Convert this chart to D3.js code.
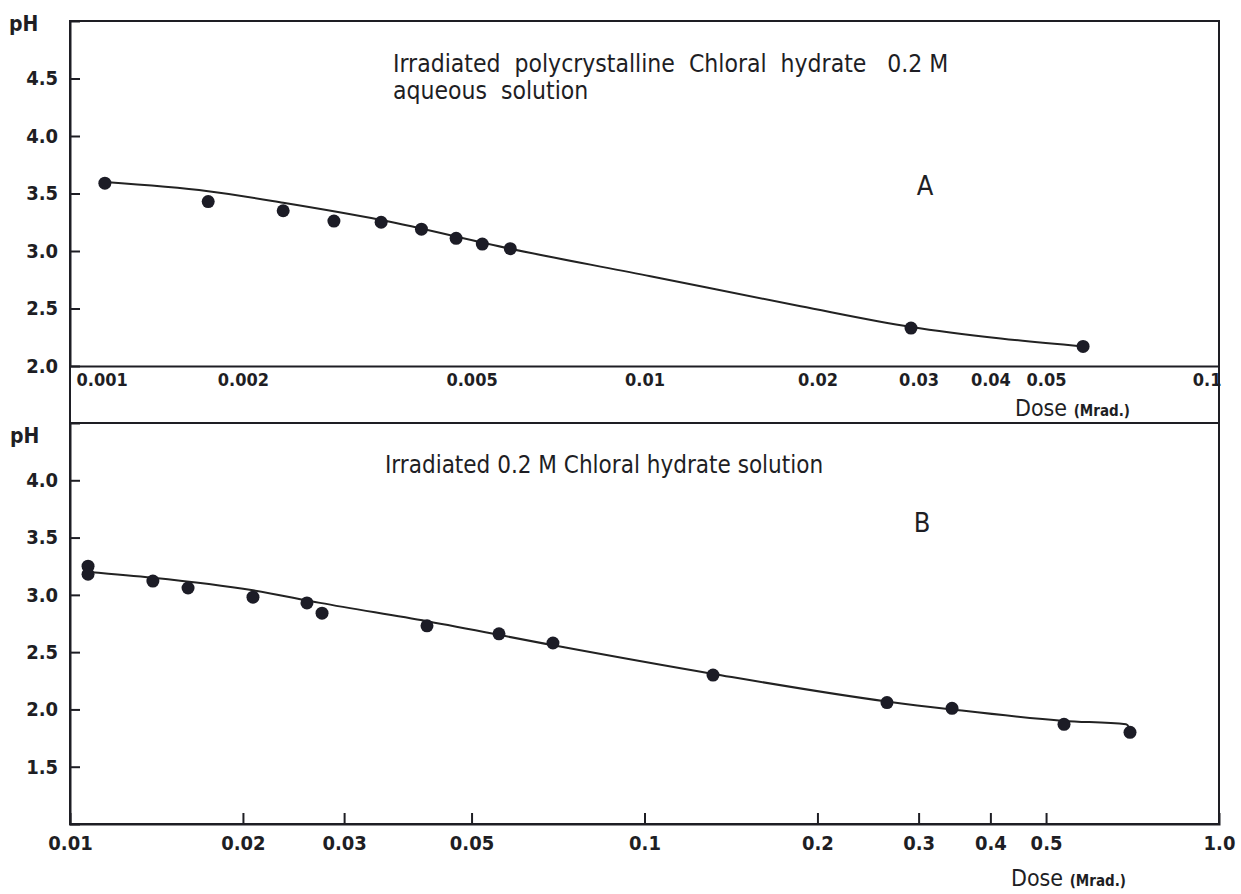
<!DOCTYPE html>
<html>
<head>
<meta charset="utf-8">
<script src="https://cdn.jsdelivr.net/npm/d3@7"></script>
<style>
  body { margin: 0; background: #fff; }
  svg text { font-family: "Liberation Sans Narrow", "DejaVu Sans Condensed", "Roboto Condensed", sans-serif; fill: #1e1e24; white-space: pre; }
</style>
</head>
<body>
<div id="chart"></div>
<script>
// Panel A - irradiated polycrystalline chloral hydrate (dose in Mrad, pH)
const doseA = [0.00115, 0.00174, 0.00235, 0.00288, 0.00348, 0.00409, 0.0047, 0.00522, 0.00584, 0.0291, 0.058];
const phA   = [3.59, 3.43, 3.35, 3.26, 3.25, 3.19, 3.11, 3.06, 3.02, 2.33, 2.17];
// fitted curve A
const curveDoseA = [0.00115, 0.00174, 0.00235, 0.00348, 0.00584, 0.01024, 0.0187, 0.0291, 0.0417, 0.058];
const curvePhA   = [3.60, 3.52, 3.42, 3.27, 3.02, 2.78, 2.52, 2.34, 2.24, 2.17];

// Panel B - irradiated 0.2 M chloral hydrate solution
const doseB = [0.01075, 0.01075, 0.01394, 0.01605, 0.02082, 0.02585, 0.02746, 0.04182, 0.05581, 0.06929, 0.1316, 0.2643, 0.343, 0.5373, 0.70];
const phB   = [3.25, 3.18, 3.12, 3.06, 2.98, 2.93, 2.84, 2.73, 2.66, 2.58, 2.30, 2.06, 2.01, 1.87, 1.80];
// fitted curve B
const curveDoseB = [0.01075, 0.01394, 0.02082, 0.02724, 0.04182, 0.0694, 0.1318, 0.264, 0.343, 0.537, 0.689, 0.700];
const curvePhB   = [3.20, 3.15, 3.04, 2.93, 2.77, 2.56, 2.31, 2.07, 2.00, 1.90, 1.87, 1.83];

// tick labels
const xTicksA = [0.001, 0.002, 0.005, 0.01, 0.02, 0.03, 0.04, 0.05, 0.1];
const xTicksB = [0.01, 0.02, 0.03, 0.05, 0.1, 0.2, 0.3, 0.4, 0.5, 1.0];
const yTicksA = [2.0, 2.5, 3.0, 3.5, 4.0, 4.5];
const yTicksB = [1.5, 2.0, 2.5, 3.0, 3.5, 4.0];

const W = 1241, H = 894;
const left = 70, right = 1219;
const ink = "#1e1e24";

const svg = d3.select("#chart").append("svg")
  .attr("width", W)
  .attr("height", H);

// scales
const xA = d3.scaleLog().domain([0.001, 0.1]).range([left, right]);
const yA = d3.scaleLinear().domain([2, 5]).range([366, 21]);
const xB = d3.scaleLog().domain([0.01, 1]).range([left, right]);
const yB = d3.scaleLinear().domain([1, 4.5]).range([824, 423]);

// outer frame
svg.append("rect")
  .attr("x", left).attr("y", yA.range()[1])
  .attr("width", right - left).attr("height", yB.range()[0] - yA.range()[1])
  .attr("fill", "none").attr("stroke", ink).attr("stroke-width", 2);
// top line of panel B
svg.append("line")
  .attr("x1", left).attr("x2", right)
  .attr("y1", yB.range()[1]).attr("y2", yB.range()[1])
  .attr("stroke", ink).attr("stroke-width", 2);

function styleAxis(g) {
  g.selectAll("path").attr("stroke", ink).attr("stroke-width", 2);
  g.selectAll("line").attr("stroke", ink).attr("stroke-width", 2);
  g.selectAll("text").attr("fill", ink).style("font-family", null);
}

// ---- Panel A axes
const fmt = d => String(d);
const axA = svg.append("g")
  .attr("transform", "translate(0," + yA.range()[0] + ")")
  .call(d3.axisBottom(xA).tickValues(xTicksA).tickFormat(fmt).tickSize(0).tickPadding(7))
  .call(styleAxis);
axA.selectAll("text").attr("font-size", 18).attr("font-weight", "bold");
axA.selectAll(".tick text").filter(d => d === 0.001).attr("text-anchor", "start").attr("dx", 6);
axA.selectAll(".tick text").filter(d => d === 0.1).attr("text-anchor", "end").attr("dx", 2);

const ayA = svg.append("g")
  .attr("transform", "translate(" + left + ",0)")
  .call(d3.axisLeft(yA).tickValues(yTicksA).tickFormat(d3.format(".1f")).tickSize(-10).tickPadding(12))
  .call(styleAxis);
ayA.selectAll("text").attr("font-size", 20).attr("font-weight", "bold");
ayA.selectAll(".tick").filter(d => d === 2.0).select("line").remove();

// ---- Panel B axes
const fmtB = d => d === 1 ? "1.0" : d3.format(".2~f")(d);
const axB = svg.append("g")
  .attr("transform", "translate(0," + yB.range()[0] + ")")
  .call(d3.axisBottom(xB).tickValues(xTicksB).tickFormat(fmtB).tickSize(-11).tickPadding(12))
  .call(styleAxis);
axB.selectAll("text").attr("font-size", 20).attr("font-weight", "bold");
axB.selectAll(".tick").filter(d => d === 0.01 || d === 1).select("line").remove();

const ayB = svg.append("g")
  .attr("transform", "translate(" + left + ",0)")
  .call(d3.axisLeft(yB).tickValues(yTicksB).tickFormat(d3.format(".1f")).tickSize(-10).tickPadding(12))
  .call(styleAxis);
ayB.selectAll("text").attr("font-size", 20).attr("font-weight", "bold");

// ---- curves
const line = (xs, ys) => d3.line().curve(d3.curveMonotoneX).x(d => xs(d[0])).y(d => ys(d[1]));

svg.append("path")
  .datum(d3.zip(curveDoseA, curvePhA))
  .attr("d", line(xA, yA))
  .attr("fill", "none").attr("stroke", "#222").attr("stroke-width", 2);

svg.append("path")
  .datum(d3.zip(curveDoseB, curvePhB))
  .attr("d", line(xB, yB))
  .attr("fill", "none").attr("stroke", "#222").attr("stroke-width", 2);

// ---- points
svg.append("g").selectAll("circle")
  .data(d3.zip(doseA, phA))
  .join("circle")
    .attr("cx", d => xA(d[0]))
    .attr("cy", d => yA(d[1]))
    .attr("r", 6.5)
    .attr("fill", "#1c1c26");

svg.append("g").selectAll("circle")
  .data(d3.zip(doseB, phB))
  .join("circle")
    .attr("cx", d => xB(d[0]))
    .attr("cy", d => yB(d[1]))
    .attr("r", 6.5)
    .attr("fill", "#1c1c26");

// ---- labels
svg.append("text").attr("x", 9).attr("y", 31).attr("font-size", 21).attr("font-weight", "bold").text("pH");
svg.append("text").attr("x", 10).attr("y", 443).attr("font-size", 21).attr("font-weight", "bold").text("pH");

svg.append("text").attr("x", 393).attr("y", 72).attr("font-size", 24.5)
  .text("Irradiated  polycrystalline  Chloral  hydrate   0.2 M");
svg.append("text").attr("x", 393).attr("y", 99).attr("font-size", 24.5)
  .text("aqueous  solution");
svg.append("text").attr("x", 385).attr("y", 473).attr("font-size", 24)
  .text("Irradiated 0.2 M Chloral hydrate solution");

svg.append("text").attr("x", 925).attr("y", 195).attr("font-size", 27).attr("text-anchor", "middle").text("A");
svg.append("text").attr("x", 922).attr("y", 532).attr("font-size", 27).attr("text-anchor", "middle").text("B");

function doseLabel(x, y) {
  const t = svg.append("text").attr("x", x).attr("y", y).attr("font-size", 23);
  t.append("tspan").text("Dose ");
  t.append("tspan").attr("font-size", 15).attr("font-weight", "bold").text("(Mrad.)");
}
doseLabel(1015, 416);
doseLabel(1011, 886);
</script>
</body>
</html>
